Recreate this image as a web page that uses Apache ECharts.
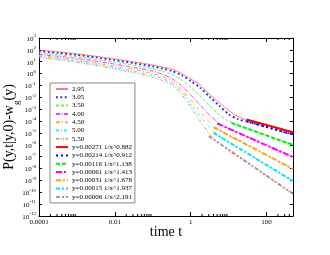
<!DOCTYPE html>
<html><head><meta charset="utf-8">
<script src="https://cdn.jsdelivr.net/npm/echarts@6/dist/echarts.min.js"></script>
<style>html,body{margin:0;padding:0;background:#fff}#c{width:330px;height:255px}</style>
</head><body><div id="c"></div>
<script>
// time values shared by the simulated curves
const times = [1e-4, 3.16e-4, 1e-3, 3.16e-3, 0.01, 0.0316, 0.1, 0.178, 0.316, 0.562, 1, 1.78, 3.16, 5.62, 10, 17.8, 31.6, 56.2, 100, 224, 500];
const curveNames = ['2.95', '3.05', '3.50', '4.00', '4.50', '5.00', '5.50'];
const v295 = [97.7, 67.6, 45.7, 28.8, 17.0, 9.77, 5.25, 3.55, 2.40, 1.05, 0.355, 0.112, 0.0178, 3.55e-3, 7.94e-4, 2.40e-4, 1.20e-4, 7.76e-5, 4.68e-5, 2.29e-5, 1.12e-5];
const v305 = [79.4, 55.0, 37.2, 22.9, 13.5, 7.59, 3.98, 2.69, 1.66, 0.759, 0.240, 0.0631, 0.0112, 2.0e-3, 3.98e-4, 1.41e-4, 9.12e-5, 5.37e-5, 3.16e-5, 1.51e-5, 7.41e-6];
const v350 = [57.5, 39.8, 26.3, 15.8, 9.12, 5.01, 2.51, 1.58, 0.891, 0.316, 0.0708, 0.0126, 2.0e-3, 3.55e-4, 1.0e-4, 4.37e-5, 2.29e-5, 1.17e-5, 6.17e-6, 2.45e-6, 9.77e-7];
const v400 = [42.7, 28.8, 19.1, 11.2, 6.31, 3.31, 1.58, 0.891, 0.398, 0.1, 0.0158, 2.24e-3, 3.16e-4, 6.31e-5, 2.40e-5, 1.05e-5, 4.68e-6, 2.04e-6, 9.12e-7, 2.95e-7, 9.33e-8];
const v450 = [33.1, 21.9, 14.1, 7.94, 4.37, 2.24, 1.0, 0.562, 0.240, 0.0501, 6.31e-3, 6.31e-4, 7.94e-5, 1.91e-5, 6.46e-6, 2.45e-6, 9.33e-7, 3.55e-7, 1.35e-7, 3.47e-8, 9.12e-9];
const v500 = [28.2, 18.2, 11.5, 6.31, 3.31, 1.58, 0.708, 0.380, 0.166, 0.0316, 3.16e-3, 2.51e-4, 2.82e-5, 5.62e-6, 1.74e-6, 5.62e-7, 1.86e-7, 6.03e-8, 2.0e-8, 4.17e-9, 8.91e-10];
const v550 = [22.4, 14.5, 8.91, 4.90, 2.51, 1.17, 0.501, 0.269, 0.120, 0.0200, 1.58e-3, 1.0e-4, 7.94e-6, 1.41e-6, 3.89e-7, 1.10e-7, 3.09e-8, 8.91e-9, 2.51e-9, 4.27e-10, 7.24e-11];
const curveValues = [v295, v305, v350, v400, v450, v500, v550];

// power-law fits: start / end time and value
const fitNames = ['y=0.00271 1/x^0.882', 'y=0.00214 1/x^0.912', 'y=0.00116 1/x^1.138',
  'y=0.00061 1/x^1.413', 'y=0.00031 1/x^1.678', 'y=0.00015 1/x^1.937', 'y=0.00006 1/x^2.191'];
const fitT = [[30, 500], [30, 500], [12, 500], [5, 500], [4, 500], [4, 500], [3, 500]];
const fitV = [[1.349e-4, 1.127e-5], [9.62e-5, 7.39e-6], [6.86e-5, 9.84e-7], [6.28e-5, 9.37e-8],
  [3.03e-5, 9.17e-9], [1.023e-5, 8.87e-10], [5.40e-6, 7.32e-11]];

const xTickLabels = {'-4': '0.0001', '-2': '0.01', '0': '1', '2': '100'};
const xMinorTicks = [2e-4, 3e-4, 4e-4, 5e-4, 6e-4, 7e-4, 8e-4, 9e-4,
  0.02, 0.03, 0.04, 0.05, 0.06, 0.07, 0.08, 0.09, 2, 3, 4, 5, 6, 7, 8, 9, 200, 300, 400];

const curveColors = ['#ff7a7a', '#2020ff', '#66ee66', '#ff33ff', '#ffad33', '#33eeee', '#c49a9a'];
const curveDash = ['solid', [1.8, 2.6], [3, 2], [4, 1.5, 1, 1.5], [4, 2, 1, 2], [3, 2, 1, 2], [3, 1.5, 1, 1.5, 1, 1.5]];
const curveWidth = [1, 1.8, 1, 1, 1, 1, 1];
const fitColors = ['#ff0000', '#0000ff', '#00ee00', '#ff00ff', '#ffa500', '#00e5ee', '#bc8f8f'];
const fitDash = ['solid', [2, 3], [4, 2], [6, 2, 2, 2], [5, 2, 2, 2], [4, 2, 2, 2], [4, 2, 2, 2, 2, 2]];

const serif = 'Liberation Serif';
const series = [];
curveNames.forEach((n, i) => {
  series.push({
    name: n, type: 'line', symbol: 'none', smooth: 0.25,
    data: times.map((t, j) => [t, curveValues[i][j]]),
    lineStyle: {color: curveColors[i], width: curveWidth[i], type: curveDash[i]},
    itemStyle: {color: curveColors[i]}
  });
});
fitNames.forEach((n, i) => {
  series.push({
    name: n, type: 'line', symbol: 'none',
    data: fitT[i].map((t, j) => [t, fitV[i][j]]),
    lineStyle: {color: fitColors[i], width: 2, type: fitDash[i]},
    itemStyle: {color: fitColors[i]}
  });
});
series.push({
  type: 'custom', silent: true, z: 10, clip: false,
  data: xMinorTicks.map(t => [t, 1]), encode: {x: 0, y: 1},
  renderItem: (p, api) => {
    const t = api.value(0);
    const b = api.coord([t, 1e-12]);
    const tp = api.coord([t, 1e3]);
    return {type: 'group', children: [
      {type: 'line', shape: {x1: b[0], y1: b[1], x2: b[0], y2: b[1] - 2}, style: {stroke: '#000', lineWidth: 1}},
      {type: 'line', shape: {x1: tp[0], y1: tp[1], x2: tp[0], y2: tp[1] + 2}, style: {stroke: '#000', lineWidth: 1}}
    ]};
  }
});

const axLine = {lineStyle: {color: '#000', width: 1}};
const option = {
  backgroundColor: '#fff',
  animation: false,
  grid: {left: 39, top: 38, right: 37, bottom: 39, containLabel: false, outerBoundsMode: 'none'},
  legend: {
    data: curveNames.concat(fitNames), orient: 'vertical', left: 50, top: 83,
    itemWidth: 12, itemHeight: 8, itemGap: 0.3, padding: [2, 3, 2, 5],
    borderColor: '#888', borderWidth: 1, backgroundColor: '#fff',
    itemStyle: {opacity: 0, borderWidth: 0},
    textStyle: {fontFamily: serif, fontSize: 7, color: '#000', lineHeight: 8, padding: [0, 0, 0, -1]}
  },
  xAxis: [{
    type: 'log', logBase: 10, min: 1e-4, max: 500, interval: 2, position: 'bottom',
    axisLine: axLine, splitLine: {show: false},
    axisTick: {inside: true, length: 4, lineStyle: {color: '#000'}},
    axisLabel: {fontFamily: serif, fontSize: 7, color: '#000', margin: 3, showMaxLabel: false,
      formatter: v => xTickLabels[String(Math.round(Math.log10(v)))] || ''},
    name: 'time t', nameLocation: 'middle', nameGap: 9, nameMoveOverlap: false,
    nameTextStyle: {fontFamily: serif, fontSize: 14, color: '#000'}
  }, {
    type: 'log', logBase: 10, min: 1e-4, max: 500, interval: 2, position: 'top',
    axisLine: axLine, splitLine: {show: false},
    axisTick: {inside: true, length: 4, lineStyle: {color: '#000'}}, axisLabel: {show: false}
  }],
  yAxis: [{
    type: 'log', logBase: 10, min: 1e-12, max: 1e3, interval: 1,
    axisLine: axLine, splitLine: {show: false},
    axisTick: {inside: true, length: 3, lineStyle: {color: '#000'}},
    axisLabel: {
      margin: 3, color: '#000',
      formatter: v => '{b|10}{s|' + Math.round(Math.log10(v)) + '}',
      rich: {
        b: {fontFamily: serif, fontSize: 7, color: '#000', lineHeight: 9, verticalAlign: 'bottom'},
        s: {fontFamily: serif, fontSize: 5, color: '#000', lineHeight: 9, verticalAlign: 'top', padding: [0, 0, 3, 0]}
      }
    },
    name: '{a|P(y,t|y,0)-w}{g|g}{a|(y)}', nameLocation: 'middle', nameGap: 22, nameRotate: 90, nameMoveOverlap: false,
    nameTextStyle: {
      rich: {
        a: {fontFamily: serif, fontSize: 14, color: '#000', lineHeight: 16},
        g: {fontFamily: serif, fontSize: 9, color: '#000', lineHeight: 9, verticalAlign: 'bottom', padding: [0, 0, -4, 0]}
      }
    }
  }, {
    type: 'log', logBase: 10, min: 1e-12, max: 1e3, interval: 1, position: 'right',
    axisLine: axLine, splitLine: {show: false},
    axisTick: {inside: true, length: 3, lineStyle: {color: '#000'}}, axisLabel: {show: false}
  }],
  series: series
};
const chart = echarts.init(document.getElementById('c'), null, {renderer: 'canvas'});
chart.setOption(option);
</script>
</body></html>
